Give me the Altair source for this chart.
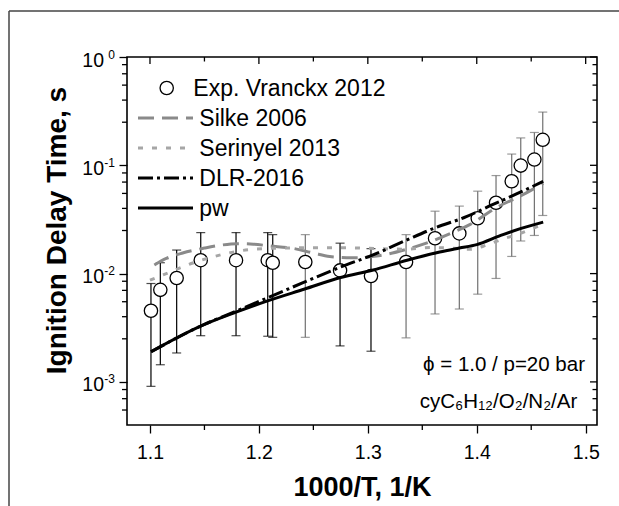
import altair as alt
import pandas as pd

# ---------------- data ----------------
exp_x = [1.1009, 1.1095, 1.1245, 1.1466, 1.1790, 1.2081, 1.2127, 1.2426, 1.2745, 1.3029,
         1.3351, 1.3617, 1.3840, 1.4009, 1.4177, 1.4321, 1.4404, 1.4529, 1.4606]
exp_y = [4.54e-3, 7.08e-3, 9.1e-3, 1.33e-2, 1.33e-2, 1.33e-2, 1.26e-2, 1.28e-2, 1.07e-2, 9.5e-3,
         1.28e-2, 2.12e-2, 2.35e-2, 3.24e-2, 4.51e-2, 7.13e-2, 9.94e-2, 0.113, 0.172]
exp_hi = [8.1e-3, 1.26e-2, 1.65e-2, 2.39e-2, 2.39e-2, 2.39e-2, 2.29e-2, 2.29e-2, 1.91e-2, 1.70e-2,
          2.29e-2, 3.77e-2, 4.20e-2, 5.77e-2, 8.04e-2, 0.127, 0.179, 0.201, 0.310]
exp_lo = [9.1e-4, 1.44e-3, 1.85e-3, 2.67e-3, 2.67e-3, 2.64e-3, 2.58e-3, 2.58e-3, 2.15e-3, 1.92e-3,
          2.55e-3, 4.24e-3, 4.71e-3, 6.46e-3, 9.02e-3, 1.44e-2, 2.0e-2, 2.25e-2, 3.44e-2]
bar_tone = ["dark"] * 7 + ["light"] + ["dark"] * 2 + ["light"] * 9

silke_x = [1.104, 1.115, 1.13, 1.15, 1.165, 1.18, 1.195, 1.21, 1.23, 1.25, 1.265, 1.285,
           1.31, 1.335, 1.353, 1.375, 1.394, 1.418, 1.44, 1.461]
silke_y = [1.2e-2, 1.38e-2, 1.55e-2, 1.72e-2, 1.83e-2, 1.89e-2, 1.87e-2, 1.8e-2, 1.72e-2, 1.55e-2,
           1.44e-2, 1.4e-2, 1.46e-2, 1.67e-2, 1.9e-2, 2.33e-2, 2.85e-2, 4.07e-2, 5.2e-2, 6.8e-2]

serinyel_x = [1.100, 1.115, 1.14, 1.165, 1.19, 1.22, 1.25, 1.28, 1.31, 1.335, 1.357, 1.375,
              1.394, 1.41, 1.423, 1.44, 1.455, 1.461]
serinyel_y = [8.7e-3, 1.0e-2, 1.26e-2, 1.49e-2, 1.66e-2, 1.72e-2, 1.73e-2, 1.73e-2, 1.7e-2, 1.68e-2,
              1.74e-2, 1.72e-2, 1.68e-2, 1.85e-2, 2.07e-2, 2.35e-2, 2.7e-2, 2.85e-2]

dlr_x = [1.101, 1.15, 1.179, 1.21, 1.24, 1.275, 1.307, 1.336, 1.362, 1.388, 1.415, 1.44, 1.461]
dlr_y = [1.9e-3, 3.4e-3, 4.5e-3, 6.1e-3, 8.2e-3, 1.15e-2, 1.52e-2, 2.05e-2, 2.65e-2, 3.28e-2,
         4.35e-2, 5.64e-2, 7.1e-2]

pw_x = [1.101, 1.146, 1.179, 1.208, 1.242, 1.275, 1.305, 1.336, 1.366, 1.384, 1.40, 1.422, 1.44, 1.461]
pw_y = [1.9e-3, 3.26e-3, 4.4e-3, 5.6e-3, 7.2e-3, 9.2e-3, 1.08e-2, 1.33e-2, 1.58e-2, 1.72e-2,
        1.85e-2, 2.25e-2, 2.6e-2, 2.99e-2]

x_major = [1.1, 1.2, 1.3, 1.4, 1.5]
x_minor = [1.15, 1.25, 1.35, 1.45]
y_major = [1.0, 0.1, 0.01, 0.001]
y_exp = ["0", "-1", "-2", "-3"]
y_minor = [0.85, 0.7, 0.55, 0.4, 0.25,
           0.085, 0.07, 0.055, 0.04, 0.025,
           0.0085, 0.007, 0.0055, 0.004, 0.0025,
           0.00085, 0.0007, 0.00055]

legend_labels = ["Exp. Vranckx 2012", "Silke 2006", "Serinyel 2013", "DLR-2016", "pw"]
note1 = "\u03d5 = 1.0 / p=20 bar"
note2 = "cyC\u2086H\u2081\u2082/O\u2082/N\u2082/Ar"

# ---------------- layout / style ----------------
FONT = "Liberation Sans"
W, H = 470, 368
XDOM = [1.0789, 1.5104]
YDOM = [4e-4, 1.0]

xscale = alt.Scale(domain=XDOM, nice=False, zero=False)
yscale = alt.Scale(type="log", domain=YDOM, nice=False)

xaxis = alt.Axis(values=x_major, format=".1f", title="1000/T, 1/K", domain=False, grid=False,
                 tickSize=8, tickWidth=1.3, tickColor="black",
                 labelFont=FONT, labelFontSize=19.5, labelColor="black",
                 labelBaseline="alphabetic", labelPadding=25, labelFlush=False,
                 titleFont=FONT, titleFontSize=27, titleFontWeight="bold", titleColor="black",
                 titleBaseline="alphabetic", titleAlign="center", titleX=235, titleY=70)
yaxis = alt.Axis(values=y_major, labels=False, title="Ignition Delay Time, s", domain=False,
                 grid=False, tickSize=8, tickWidth=1.3, tickColor="black",
                 titleFont=FONT, titleFontSize=28, titleFontWeight="bold", titleColor="black",
                 titleBaseline="alphabetic", titleAlign="center", titleAngle=270,
                 titleX=-62, titleY=173)


def X(f):
    return alt.X(f"{f}:Q", scale=xscale, axis=xaxis)


def Y(f):
    return alt.Y(f"{f}:Q", scale=yscale, axis=yaxis)


one = pd.DataFrame({"k": [0]})
df_exp = pd.DataFrame({"x": exp_x, "y": exp_y, "lo": exp_lo, "hi": exp_hi, "tone": bar_tone})
tone_color = alt.Color("tone:N", scale=alt.Scale(domain=["dark", "light"], range=["#000000", "#707070"]),
                       legend=None)

layers = []

# error bars
layers.append(alt.Chart(df_exp).mark_rule(strokeWidth=1.2).encode(
    x=X("x"), y=Y("lo"), y2="hi", color=tone_color))
for f in ["lo", "hi"]:
    layers.append(alt.Chart(df_exp).mark_tick(orient="horizontal", size=9, thickness=1.2).encode(
        x=X("x"), y=Y(f), color=tone_color))

# experimental points
layers.append(alt.Chart(df_exp).mark_point(shape="circle", filled=True, color="white", stroke="black",
                                           strokeWidth=1.3, size=177, opacity=1).encode(
    x=X("x"), y=Y("y")))

# model lines
styles = [
    (silke_x, silke_y, "#8a8a8a", [16, 8]),
    (serinyel_x, serinyel_y, "#a6a6a6", [5, 9]),
    (dlr_x, dlr_y, "#000000", [15, 4, 3, 4]),
    (pw_x, pw_y, "#000000", None),
]
for xs, ys, col, dash in styles:
    kw = dict(color=col, strokeWidth=3, interpolate="monotone")
    if dash:
        kw["strokeDash"] = dash
    layers.append(alt.Chart(pd.DataFrame({"x": xs, "y": ys})).mark_line(**kw).encode(
        x=X("x"), y=Y("y")))

# extra ticks
def tdf(vals):
    return pd.DataFrame({"v": vals})

rk = dict(color="black", strokeWidth=1.3)
layers.append(alt.Chart(tdf(x_minor)).mark_rule(**rk).encode(x=X("v"), y=alt.value(H), y2=alt.value(H + 5)))
layers.append(alt.Chart(tdf(x_major)).mark_rule(**rk).encode(x=X("v"), y=alt.value(0), y2=alt.value(7)))
layers.append(alt.Chart(tdf(x_minor)).mark_rule(**rk).encode(x=X("v"), y=alt.value(0), y2=alt.value(4.5)))
layers.append(alt.Chart(tdf(y_minor)).mark_rule(**rk).encode(y=Y("v"), x=alt.value(-5), x2=alt.value(0)))
layers.append(alt.Chart(tdf(y_major)).mark_rule(**rk).encode(y=Y("v"), x=alt.value(W - 7), x2=alt.value(W)))
layers.append(alt.Chart(tdf(y_minor)).mark_rule(**rk).encode(y=Y("v"), x=alt.value(W - 4.5), x2=alt.value(W)))

# y tick labels 10^n
df_ylab = pd.DataFrame({"v": y_major, "e": y_exp})
layers.append(alt.Chart(df_ylab).mark_text(text="10", align="right", baseline="alphabetic", font=FONT,
                                           fontSize=19.5, color="black", dy=9.5).encode(
    x=alt.value(-23), y=Y("v")))
layers.append(alt.Chart(df_ylab).mark_text(align="right", baseline="alphabetic", font=FONT,
                                           fontSize=12, color="black", dy=1.5).encode(
    x=alt.value(-12), y=Y("v"), text="e:N"))

# legend
row_y = [31 + 30 * i for i in range(5)]
layers.append(alt.Chart(one).mark_point(shape="circle", filled=True, color="white", stroke="black",
                                        strokeWidth=1.3, size=177, opacity=1).encode(
    x=alt.value(39.7), y=alt.value(row_y[0])))
for i, (xs, ys, col, dash) in enumerate(styles):
    kw = dict(color=col, strokeWidth=3)
    if dash:
        kw["strokeDash"] = dash
    layers.append(alt.Chart(one).mark_rule(**kw).encode(
        x=alt.value(11), x2=alt.value(66), y=alt.value(row_y[i + 1])))
for i, lab in enumerate(legend_labels):
    layers.append(alt.Chart(pd.DataFrame({"t": [lab]})).mark_text(
        align="left", baseline="alphabetic", font=FONT, fontSize=23, color="black").encode(
        x=alt.value(66.3 if i == 0 else 72.3), y=alt.value(row_y[i] + 8.3), text="t:N"))

# annotations
layers.append(alt.Chart(pd.DataFrame({"t": [note1]})).mark_text(
    align="right", baseline="alphabetic", font=FONT, fontSize=20.5, color="black").encode(
    x=alt.value(458), y=alt.value(313.7), text="t:N"))
layers.append(alt.Chart(pd.DataFrame({"t": [note2]})).mark_text(
    align="right", baseline="alphabetic", font=FONT, fontSize=20.5, color="black").encode(
    x=alt.value(450.3), y=alt.value(350.7), text="t:N"))

# outer frame (decoration)
layers.append(alt.Chart(one).mark_rule(color="#444444", strokeWidth=1.5).encode(
    x=alt.value(-118), y=alt.value(-46), y2=alt.value(460)))
layers.append(alt.Chart(one).mark_rule(color="#444444", strokeWidth=1.5).encode(
    x=alt.value(-118), x2=alt.value(500), y=alt.value(-46)))

chart = alt.layer(*layers).properties(
    width=W, height=H,
    padding={"left": 127, "top": 57, "right": 22, "bottom": 81},
    autosize=alt.AutoSizeParams(type="none"),
).configure(font=FONT).configure_view(stroke="black", strokeWidth=1.6)

chart.save("out.html", embed_options={"renderer": "svg", "actions": False})
